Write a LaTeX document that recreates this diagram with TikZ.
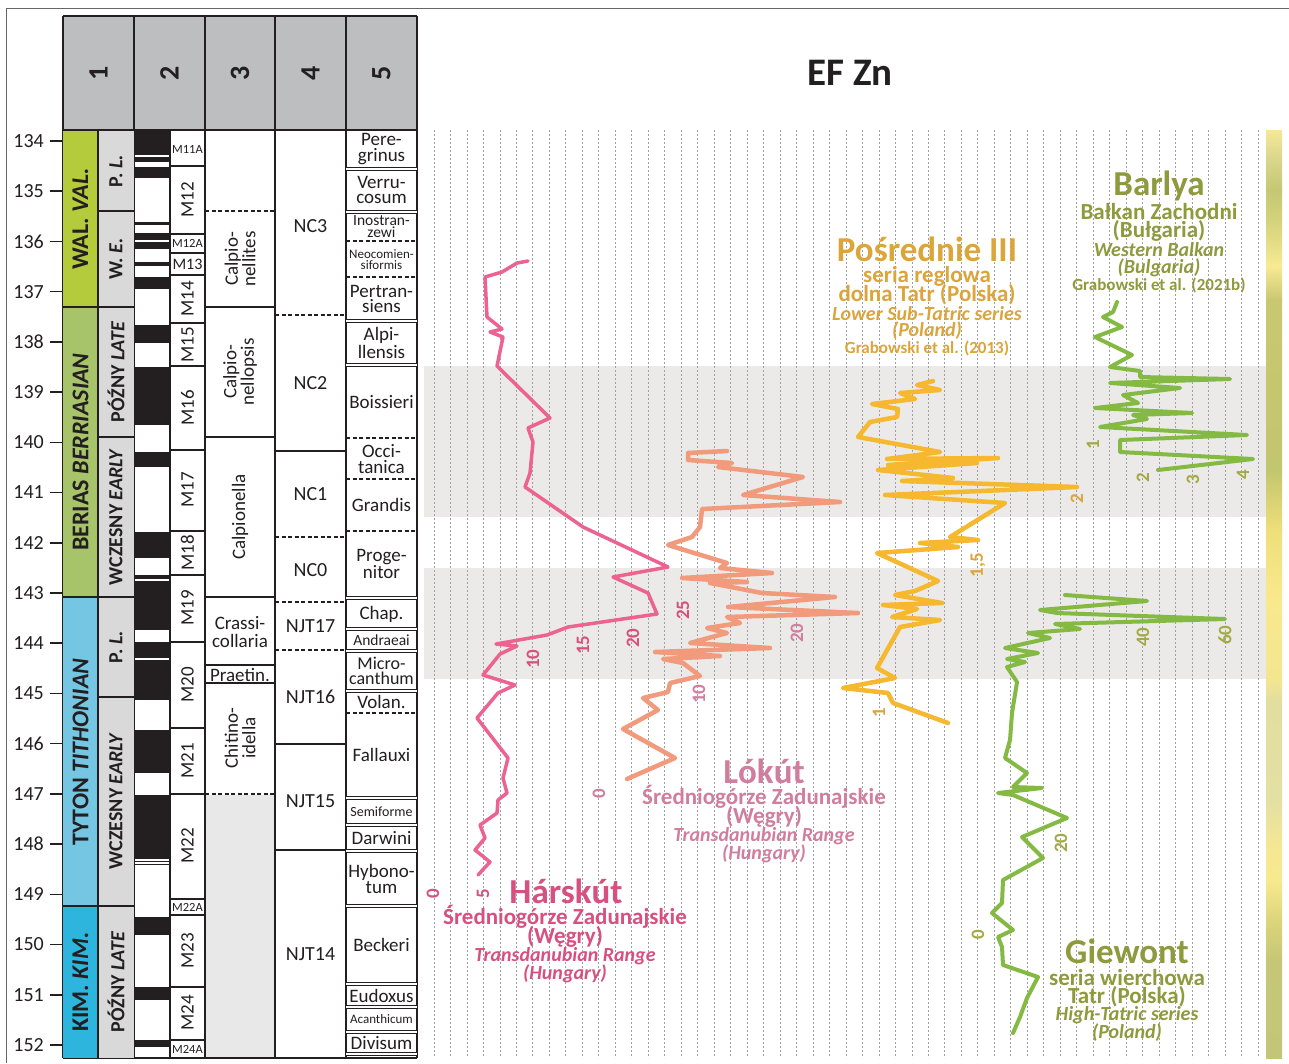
\documentclass[tikz,border=0pt]{standalone}
\usepackage{fontspec}
\setmainfont{Carlito}
\usetikzlibrary{positioning}

\definecolor{ink}{HTML}{231F20}
\definecolor{hdrgray}{HTML}{BCBEC0}
\definecolor{subgray}{HTML}{D9D9D9}
\definecolor{fillgray}{HTML}{E8E8E8}
\definecolor{bandgray}{HTML}{EBEAE8}
\definecolor{walgreen}{HTML}{B4CB3C}
\definecolor{bergreen}{HTML}{A8C46B}
\definecolor{titblue}{HTML}{74C6E3}
\definecolor{kimblue}{HTML}{2DB5DE}
\definecolor{harline}{HTML}{EC6391}
\definecolor{hartext}{HTML}{D8507F}
\definecolor{lokline}{HTML}{F29A7C}
\definecolor{loktext}{HTML}{D17E9D}
\definecolor{posline}{HTML}{F6B82E}
\definecolor{postext}{HTML}{DCA53B}
\definecolor{grnline}{HTML}{84BA43}
\definecolor{grntext}{HTML}{8F9A3D}
\definecolor{grnlbl}{HTML}{A3AA45}

\newcommand{\fsz}[2]{\fontsize{#1}{#2}\selectfont}

\tikzset{
	tbl/.style={ink, line width=2pt},
	tbldash/.style={ink, line width=2pt, dash pattern=on 4pt off 2.5pt},
	twin/.style={ink, line width=1.3pt, double, double distance=1.8pt},
	tick/.style={ink, line width=1.6pt},
	gridln/.style={gray!75, line width=0.8pt, dash pattern=on 1.6pt off 2.4pt},
	lbl/.style={text=ink, inner sep=0pt, align=center},
	agelbl/.style={lbl, font=\fsz{20}{20}, anchor=east},
	hdrnum/.style={lbl, font=\fsz{28}{28}\bfseries, rotate=90},
	stage/.style={lbl, font=\fsz{24}{24}\bfseries, rotate=90},
	substage/.style={lbl, font=\fsz{20}{20}\bfseries, rotate=90},
	chron/.style={lbl, font=\fsz{19}{19}, rotate=90},
	chronsm/.style={lbl, font=\fsz{12.5}{12.5}},
	zone/.style={lbl, font=\fsz{19}{17.5}},
	vzone/.style={zone, rotate=90},
	nanno/.style={lbl, font=\fsz{20}{20}},
	amm/.style={lbl, font=\fsz{19}{15.5}},
	sitettl/.style={inner sep=0pt, font=\fsz{35}{35}\bfseries},
	sitesub/.style={inner sep=0pt, font=\fsz{23}{23}\bfseries},
	siteit/.style={inner sep=0pt, font=\fsz{20}{20}\bfseries\itshape},
	sitecit/.style={inner sep=0pt, font=\fsz{17}{17}\bfseries},
	axlbl/.style={inner sep=0pt, font=\fsz{19}{19}\bfseries, rotate=90},
	curve/.style={line width=#1, line join=round, line cap=round},
}

\begin{document}
\begin{tikzpicture}[x=1pt,y=-1pt]
	\useasboundingbox (0,0) rectangle (1289,1063);
	\fill[white] (0,0) rectangle (1289,1063);
	\draw[gray!80!black, line width=1pt] (6,1063) -- (6,8) -- (1289,8);

	% plot area
	\fill[bandgray] (424,366) rectangle (1266,517);
	\fill[bandgray] (424,568) rectangle (1266,679);
	\foreach \k in {0,...,50}
		\draw[gridln] ({434+16.48*\k},130) -- ({434+16.48*\k},1058);
	\foreach \ya/\yb/\ca/\cb in {130/160/F5E89A/D8D68A, 160/190/D8D68A/C5C773, 190/230/C5C773/D9D77F,
		230/266/D9D77F/F8EA93, 266/300/F8EA93/C8C870, 300/470/C8C870/C2C66E, 470/530/C2C66E/EEDF7A,
		530/600/EEDF7A/F9E98D, 600/680/F9E98D/F2E68F, 680/700/F2E68F/E2DEA0, 700/800/E2DEA0/E3E0A3,
		800/850/E3E0A3/F5E892, 850/880/F5E892/F8E98E, 880/920/F8E98E/DCD57A, 920/960/DCD57A/C5C776,
		960/1058/C5C776/C3C679}
	{
		\definecolor{ctop}{HTML}{\ca}
		\definecolor{cbot}{HTML}{\cb}
		\shade[top color=ctop, bottom color=cbot] (1266,\ya) rectangle (1282,{\yb+0.5});
	}

	% header
	\fill[hdrgray] (63,16) rectangle (417,130);
	\foreach \x in {63,134,205,275,346,417}
		\draw[tbl] (\x,16) -- (\x,1058);
	\draw[tbl] (63,16) -- (417,16);
	\draw[tbl] (63,130) -- (417,130);
	\draw[tbl] (63,1058) -- (417,1058);
	\node[hdrnum] (h1) at (98.5,73) {1};
	\node[hdrnum] (h2) at (169.5,73) {2};
	\node[hdrnum] (h3) at (240,73) {3};
	\node[hdrnum] (h4) at (310.5,73) {4};
	\node[hdrnum] (h5) at (381.5,73) {5};

	% age axis
	\foreach \a [count=\i from 0] in {134,...,152}
	{
		\node[agelbl] (age\a) at (44,{141+50.22*\i}) {\a};
		\draw[tick] (50,{141+50.22*\i}) -- (63,{141+50.22*\i});
	}

	% column 1
	\fill[walgreen] (63,131) rectangle (98,307);
	\fill[bergreen] (63,307) rectangle (98,597);
	\fill[titblue] (63,597) rectangle (98,906);
	\fill[kimblue] (63,906) rectangle (98,1058);
	\fill[subgray] (98,131) rectangle (134,1058);
	\draw[tbl] (98,130) -- (98,1058);
	\foreach \y in {307,597,906}
		\draw[tbl] (63,\y) -- (134,\y);
	\foreach \y in {211,437,697}
		\draw[tbl] (98,\y) -- (134,\y);
	\node[stage] (wal) at (80.5,219) {WAL. \textit{VAL.}};
	\node[stage] (ber) at (80.5,452) {BERIAS \textit{BERRIASIAN}};
	\node[stage] (tyt) at (80.5,752) {TYTON \textit{TITHONIAN}};
	\node[stage] (kim) at (80.5,982) {KIM. \textit{KIM.}};
	\node[substage] (valL) at (116,171) {P. \textit{L.}};
	\node[substage] (valE) at (116,259) {W. \textit{E.}};
	\node[substage] (berL) at (116,372) {PÓŹNY \textit{LATE}};
	\node[substage] (berE) at (116,517) {WCZESNY \textit{EARLY}};
	\node[substage] (titL) at (116,647) {P. \textit{L.}};
	\node[substage] (titE) at (116,801) {WCZESNY \textit{EARLY}};
	\node[substage] (kimL) at (116,982) {PÓŹNY \textit{LATE}};

	% column 2
	\foreach \ya/\yb in {131/155, 157/162, 167/178, 222/225, 233/240, 242/249, 262/266, 277/289,
		325/343, 367/425, 452/467, 532/558, 575/579, 581/630, 642/658, 660/700, 730/773,
		795/859, 861/862, 864/865, 917/935, 987/1000, 1040/1047}
		\fill[ink] (134,\ya) rectangle (170,\yb);
	\draw[tbl] (170,130) -- (170,1058);
	\foreach \y in {166,234,253,275,323,366,450,531,575,642,728,794,899,915,987,1040}
		\draw[tbl] (170,\y) -- (205,\y);
	\node[chronsm] (m11a) at (187.5,149) {M11A};
	\node[chron] (m12) at (187.5,200) {M12};
	\node[chronsm] (m12a) at (187.5,243.5) {M12A};
	\node[chronsm, font=\fsz{16}{16}] (m13) at (187.5,264) {M13};
	\node[chron] (m14) at (187.5,299) {M14};
	\node[chron] (m15) at (187.5,345) {M15};
	\node[chron] (m16) at (187.5,408) {M16};
	\node[chron] (m17) at (187.5,490) {M17};
	\node[chron] (m18) at (187.5,553) {M18};
	\node[chron] (m19) at (187.5,608) {M19};
	\node[chron] (m20) at (187.5,685) {M20};
	\node[chron] (m21) at (187.5,761) {M21};
	\node[chron] (m22) at (187.5,846) {M22};
	\node[chronsm] (m22a) at (187.5,907) {M22A};
	\node[chron] (m23) at (187.5,951) {M23};
	\node[chron] (m24) at (187.5,1013) {M24};
	\node[chronsm] (m24a) at (187.5,1049) {M24A};

	% column 3
	\fill[fillgray] (206,795) rectangle (274,1057);
	\draw[tbldash] (205,211) -- (275,211);
	\draw[tbldash] (205,794) -- (275,794);
	\foreach \y in {307,437,597,665,683}
		\draw[tbl] (205,\y) -- (275,\y);
	\node[vzone] (calpnts) at (240,259) {Calpio-\\nellites};
	\node[vzone] (calpnps) at (240,372) {Calpio-\\nellopsis};
	\node[vzone] (calpnla) at (240,517) {Calpionella};
	\node[zone] (crassi) at (240,632) {Crassi-\\collaria};
	\node[zone] (praetin) at (240,674.5) {Praetin.};
	\node[vzone] (chitino) at (240,738) {Chitino-\\idella};

	% column 4
	\foreach \y in {315,537,602,650}
		\draw[tbldash] (275,\y) -- (346,\y);
	\foreach \y in {451,744,850}
		\draw[tbl] (275,\y) -- (346,\y);
	\node[nanno] (nc3) at (310.5,226) {NC3};
	\node[nanno] (nc2) at (310.5,383) {NC2};
	\node[nanno] (nc1) at (310.5,494) {NC1};
	\node[nanno] (nc0) at (310.5,570) {NC0};
	\node[nanno] (njt17) at (310.5,626) {NJT17};
	\node[nanno] (njt16) at (310.5,697) {NJT16};
	\node[nanno] (njt15) at (310.5,801) {NJT15};
	\node[nanno] (njt14) at (310.5,954) {NJT14};

	% column 5
	\foreach \y in {169,212,321,365,598,629,651,691,798,825,851,906,984,1007,1032,1054}
		\draw[twin] (346,\y) -- (417,\y);
	\foreach \y in {241,277,438,479,531,713}
		\draw[tbldash] (346,\y) -- (417,\y);
	\node[amm] (peregr) at (381.5,149) {Pere-\\grinus};
	\node[amm] (verru) at (381.5,190) {Verru-\\cosum};
	\node[amm, font=\fsz{15.5}{11.5}] (inostr) at (381.5,226.5) {Inostran-\\zewi};
	\node[amm, font=\fsz{13}{10.5}] (neocom) at (381.5,259.5) {Neocomien-\\siformis};
	\node[amm] (pertr) at (381.5,299) {Pertran-\\siens};
	\node[amm] (alpil) at (381.5,343) {Alpi-\\llensis};
	\node[amm] (boiss) at (381.5,402) {Boissieri};
	\node[amm] (occit) at (381.5,459) {Occi-\\tanica};
	\node[amm] (grand) at (381.5,505) {Grandis};
	\node[amm] (proge) at (381.5,564) {Proge-\\nitor};
	\node[amm] (chap) at (381.5,614) {Chap.};
	\node[amm, font=\fsz{15.5}{15.5}] (andr) at (381.5,640) {Andraeai};
	\node[amm, font=\fsz{18}{15}] (micro) at (381.5,671) {Micro-\\canthum};
	\node[amm] (volan) at (381.5,702) {Volan.};
	\node[amm] (falla) at (381.5,755) {Fallauxi};
	\node[amm, font=\fsz{14}{14}] (semif) at (381.5,811.5) {Semiforme};
	\node[amm] (darw) at (381.5,838) {Darwini};
	\node[amm] (hybon) at (381.5,879) {Hybono-\\tum};
	\node[amm] (beck) at (381.5,945) {Beckeri};
	\node[amm] (eudox) at (381.5,995.5) {Eudoxus};
	\node[amm, font=\fsz{13}{13}] (acant) at (381.5,1019.5) {Acanthicum};
	\node[amm] (divis) at (381.5,1043) {Divisum};

	% title
	\node[inner sep=0pt, text=ink, font=\fsz{39}{39}\bfseries] (efzn) at (850,73) {EF Zn};

	% Harskut
	\draw[harline, curve=3.5pt] plot coordinates {(528,261) (517,263) (502,272) (485,277) (487,317) (502,329)
		(490,332) (503,337) (497,366) (550,418) (528,428) (533,442) (530,473) (525,487) (583,527)
		(668,567) (613,577) (648,593) (657,614) (568,627) (547,635) (496,644) (517,646) (500,654)
		(483,675) (515,685) (498,693) (477,718) (508,758) (503,778) (507,793) (498,800) (497,813)
		(480,825) (485,838) (475,850) (490,862) (478,875)};
	\node[axlbl, text=hartext] (har0) at (433,894) {0};
	\node[axlbl, text=hartext] (har5) at (483,894) {5};
	\node[axlbl, text=hartext] (har10) at (533,659) {10};
	\node[axlbl, text=hartext] (har15) at (583,645) {15};
	\node[axlbl, text=hartext] (har20) at (633,638) {20};
	\node[axlbl, text=hartext] (har25) at (683,610) {25};
	\node[sitettl, text=hartext] (harT) at (566,891) {Hárskút};
	\node[sitesub, text=hartext] (harA) at (565,917) {Średniogórze Zadunajskie};
	\node[sitesub, text=hartext] (harB) at (565,937) {(Węgry)};
	\node[siteit, text=hartext] (harC) at (565,956) {Transdanubian Range};
	\node[siteit, text=hartext] (harD) at (565,974) {(Hungary)};

	% Lokut
	\draw[lokline, curve=4.5pt] plot coordinates {(727,451) (688,453) (688,460) (732,463) (718,467) (803,477)
		(743,495) (840,502) (702,509) (700,527) (692,537) (668,545) (727,563) (720,568) (772,573)
		(682,578) (747,582) (710,583) (762,593) (835,597) (728,607) (858,613) (727,617) (740,623)
		(707,628) (727,633) (690,643) (770,648) (655,652) (720,656) (663,659) (683,663) (700,676)
		(670,683) (668,692) (643,698) (658,710) (623,729) (675,758) (627,779)};
	\node[axlbl, text=loktext] (lok0) at (599,794) {0};
	\node[axlbl, text=loktext] (lok10) at (699,694) {10};
	\node[axlbl, text=loktext] (lok20) at (797,633) {20};
	\node[sitettl, text=loktext] (lokT) at (764,771) {Lókút};
	\node[sitesub, text=loktext] (lokA) at (764,797) {Średniogórze Zadunajskie};
	\node[sitesub, text=loktext] (lokB) at (764,817) {(Węgry)};
	\node[siteit, text=loktext] (lokC) at (764,836) {Transdanubian Range};
	\node[siteit, text=loktext] (lokD) at (764,854) {(Hungary)};

	% Posrednie III
	\draw[posline, curve=4.5pt] plot coordinates {(933,381) (917,385) (940,390) (900,393) (915,399) (872,404)
		(898,409) (897,417) (870,422) (858,437) (940,452) (887,459) (998,458) (888,465) (977,463)
		(878,470) (953,478) (902,481) (1077,487) (885,495) (1005,503) (950,537) (978,540) (920,543)
		(958,547) (877,553) (938,581) (915,591) (895,595) (942,603) (883,605) (917,609) (892,617)
		(940,620) (900,627) (877,668) (895,678) (843,688) (888,693) (893,703) (948,723)};
	\node[axlbl, text=postext] (pos1) at (879,713) {1};
	\node[axlbl, text=postext] (pos15) at (978,565) {1,5};
	\node[axlbl, text=postext] (pos2) at (1077,499) {2};
	\node[sitettl, text=postext] (posT) at (927,249) {Pośrednie III};
	\node[sitesub, text=postext] (posA) at (927,276) {seria reglowa};
	\node[sitesub, text=postext] (posB) at (927,295) {dolna Tatr (Polska)};
	\node[siteit, text=postext] (posC) at (927,314) {Lower Sub-Tatric series};
	\node[siteit, text=postext] (posD) at (927,331) {(Poland)};
	\node[sitecit, text=postext] (posE) at (927,348) {Grabowski et al. (2013)};

	% Barlya
	\draw[grnline, curve=4pt] plot coordinates {(1117,302) (1113,312) (1103,317) (1122,327) (1095,337)
		(1132,355) (1110,367) (1140,371) (1140,377) (1230,379) (1110,383) (1180,388) (1123,395)
		(1138,403) (1095,408) (1192,413) (1133,415) (1147,419) (1100,427) (1247,435) (1120,440)
		(1120,452) (1253,459) (1158,470)};
	\node[axlbl, text=grnlbl] (bar1) at (1093,445) {1};
	\node[axlbl, text=grnlbl] (bar2) at (1143,478) {2};
	\node[axlbl, text=grnlbl] (bar3) at (1193,480) {3};
	\node[axlbl, text=grnlbl] (bar4) at (1243,475) {4};
	\node[sitettl, text=grntext] (barT) at (1159,186) {Barlya};
	\node[sitesub, text=grntext] (barA) at (1159,212) {Bałkan Zachodni};
	\node[sitesub, text=grntext] (barB) at (1159,231) {(Bułgaria)};
	\node[siteit, text=grntext] (barC) at (1159,250) {Western Balkan};
	\node[siteit, text=grntext] (barD) at (1159,268) {(Bulgaria)};
	\node[sitecit, text=grntext] (barE) at (1159,285) {Grabowski et al. (2021b)};

	% Giewont
	\draw[grnline, curve=4pt] plot coordinates {(1065,595) (1147,601) (1040,610) (1057,613) (1225,619)
		(1055,624) (1080,629) (1028,633) (1050,638) (1005,648) (1038,653) (1007,659) (1025,662)
		(1007,667) (1017,682) (1012,713) (1010,740) (1005,758) (1027,773) (1013,787) (1042,788)
		(998,793) (1013,795) (1067,818) (1022,837) (1043,858) (1003,880) (1002,903) (992,913)
		(1013,930) (998,937) (1002,947) (1003,965) (1038,977) (1027,998) (1020,1017) (1013,1033)};
	\node[axlbl, text=grnlbl] (gie0) at (978,935) {0};
	\node[axlbl, text=grnlbl] (gie20) at (1061,843) {20};
	\node[axlbl, text=grnlbl] (gie40) at (1143,637) {40};
	\node[axlbl, text=grnlbl] (gie60) at (1225,635) {60};
	\node[sitettl, text=grntext] (gieT) at (1127,951) {Giewont};
	\node[sitesub, text=grntext] (gieA) at (1127,977) {seria wierchowa};
	\node[sitesub, text=grntext] (gieB) at (1127,997) {Tatr (Polska)};
	\node[siteit, text=grntext] (gieC) at (1127,1015) {High-Tatric series};
	\node[siteit, text=grntext] (gieD) at (1127,1033) {(Poland)};
\end{tikzpicture}
\end{document}
